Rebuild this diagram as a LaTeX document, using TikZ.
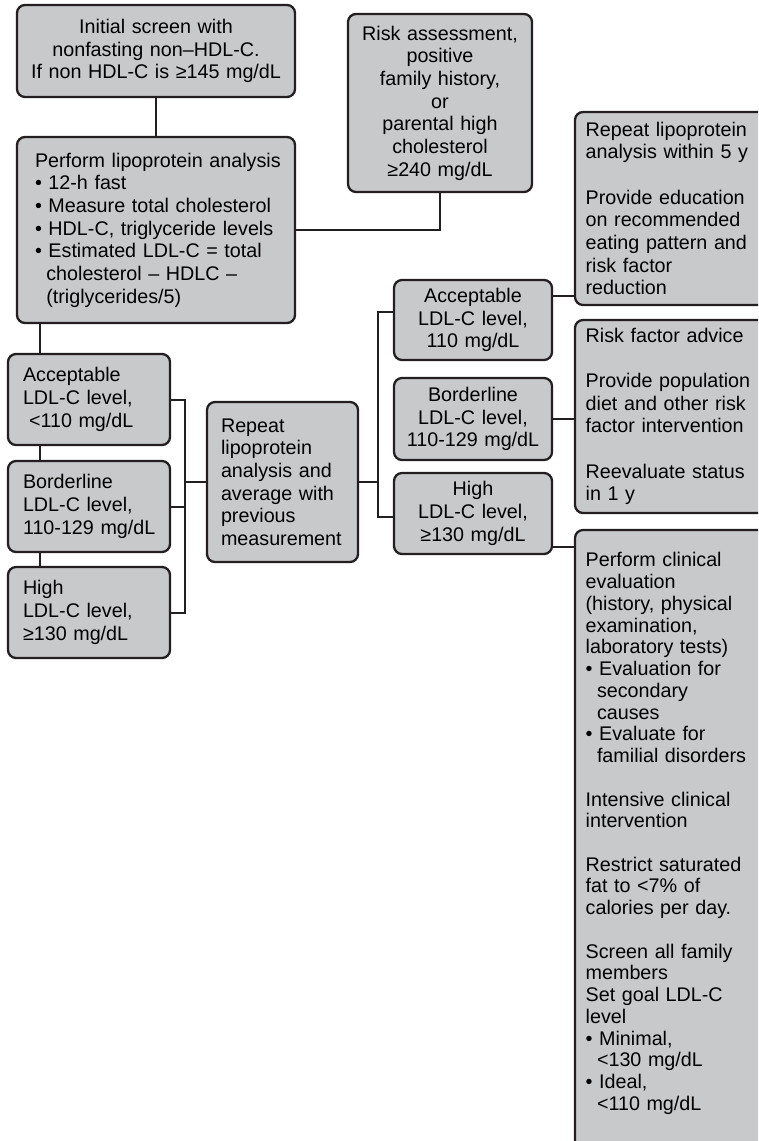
\documentclass[tikz,border=0pt]{standalone}
\usepackage{fontspec}
\setmainfont{Liberation Sans}
\definecolor{bg}{RGB}{200,201,203}
\definecolor{lc}{RGB}{35,31,32}
\newcommand\boxfont{\fontsize{14.8pt}{17pt}\selectfont}
\newcommand\tightfont{\fontsize{14.8pt}{16.3pt}\selectfont}
\newcommand\cind{\hspace*{8.5pt}}
\begin{document}
\begin{tikzpicture}[x=0.75pt,y=-0.75pt,
  box/.style={draw=lc, fill=bg, line width=1.7pt, rounded corners=6pt, inner xsep=0pt, inner ysep=3pt, outer sep=0pt, anchor=north west, font=\boxfont, text=black},
  cbox/.style={box, align=center},
  lbox/.style={box, align=left, execute at begin node={\leftskip=#1\relax}},
  conn/.style={draw=lc, line width=1.5pt},
]
\useasboundingbox (0,0) rectangle (758,1141);
\clip (0,0) rectangle (758,1141);

\node[cbox, text width=208.5pt, minimum width=208.5pt, minimum height=69pt] (A) at (17,5)
 {Initial screen with\\ nonfasting non–HDL-C.\\ If non HDL-C is ≥145 mg/dL};
\node[lbox=13.5pt, text width=208.5pt, minimum width=208.5pt, minimum height=139.5pt] (B) at (17,137)
 {Perform lipoprotein analysis\\ • 12-h fast\\ • Measure total cholesterol\\ • HDL-C, triglyceride levels\\ • Estimated LDL-C = total\\ \cind cholesterol – HDLC –\\ \cind (triglycerides/5)};
\node[cbox, text width=138pt, minimum width=138pt, minimum height=133.5pt] (R) at (348,14)
 {Risk assessment,\\ positive\\ family history,\\ or\\ parental high\\ cholesterol\\ ≥240 mg/dL};

\node[lbox=11.25pt, text width=121.5pt, minimum width=121.5pt, minimum height=68.25pt] (C1) at (8,354)
 {Acceptable\\ LDL-C level,\\ \hspace*{4.5pt}<110 mg/dL};
\node[lbox=11.25pt, text width=121.5pt, minimum width=121.5pt, minimum height=68.25pt] (C2) at (8,461)
 {Borderline\\ LDL-C level,\\ 110-129 mg/dL};
\node[lbox=11.25pt, text width=121.5pt, minimum width=121.5pt, minimum height=68.25pt] (C3) at (8,567)
 {High\\ LDL-C level,\\ ≥130 mg/dL};

\node[lbox=10.5pt, text width=113.25pt, minimum width=113.25pt, minimum height=120pt] (P) at (207,402)
 {Repeat\\ lipoprotein\\ analysis and\\ average with\\ previous\\ measurement};

\node[cbox, text width=118.5pt, minimum width=118.5pt, minimum height=60pt] (M1) at (394,280)
 {Acceptable\\ LDL-C level,\\ 110 mg/dL};
\node[cbox, text width=118.5pt, minimum width=118.5pt, minimum height=61.5pt] (M2) at (394,378)
 {Borderline\\ LDL-C level,\\ 110-129 mg/dL};
\node[cbox, text width=118.5pt, minimum width=118.5pt, minimum height=60.75pt] (M3) at (394,473)
 {High\\ LDL-C level,\\ ≥130 mg/dL};

\node[lbox=8pt, text width=168.75pt, minimum width=168.75pt, minimum height=144.75pt] (RA) at (575,112)
 {Repeat lipoprotein\\ analysis within 5 y\\[17pt] Provide education\\ on recommended\\ eating pattern and\\ risk factor\\ reduction};
\node[lbox=8pt, text width=168.75pt, minimum width=168.75pt, minimum height=144.75pt] (RB) at (575,320)
 {Risk factor advice\\[17pt] Provide population\\ diet and other risk\\ factor intervention\\[17pt] Reevaluate status\\ in 1 y};
\node[lbox=8pt, font=\tightfont, text width=168.75pt, minimum width=168.75pt, inner ysep=17pt, text depth=480pt] (RC) at (575,530)
 {Perform clinical\\ evaluation\\ (history, physical\\ examination,\\ laboratory tests)\\
  • Evaluation for\\ \cind secondary\\ \cind causes\\ • Evaluate for\\ \cind familial disorders\\[16.3pt]
  Intensive clinical\\ intervention\\[16.3pt]
  Restrict saturated\\ fat to <7\% of\\ calories per day.\\[16.3pt]
  Screen all family\\ members\\ Set goal LDL-C\\ level\\ • Minimal,\\ \cind <130 mg/dL\\ • Ideal,\\ \cind <110 mg/dL};

\coordinate (cx) at (40,0);
\coordinate (bx) at (185,0);
\coordinate (mx) at (378,0);

\draw[conn] (A.south) -- (B.north);
\draw[conn] (B.east) -| (R.south);
\draw[conn] (B.south -| cx) -- (C1.north -| cx);
\draw[conn] (C1.south -| cx) -- (C2.north -| cx);
\draw[conn] (C2.south -| cx) -- (C3.north -| cx);
\draw[conn] (C1.east) -- (C1.east -| bx) -- (C3.east -| bx) -- (C3.east);
\draw[conn] (C2.east) -- (C2.east -| bx);
\draw[conn] (P.west) -- (P.west -| bx);
\draw[conn] ([yshift=6pt]M1.west) -- ([yshift=6pt]M1.west -| mx) -- ([yshift=-2.6pt]M3.west -| mx) -- ([yshift=-2.6pt]M3.west);
\draw[conn] (P.east) -- (P.east -| mx);
\draw[conn] ([yshift=18pt]M1.east) -- ([yshift=18pt]M1.east -| RA.west);
\draw[conn] (M2.east) -- (M2.east -| RB.west);
\draw[conn] ([yshift=-25pt]M3.east) -- ([yshift=-25pt]M3.east -| RC.west);
\end{tikzpicture}
\end{document}
